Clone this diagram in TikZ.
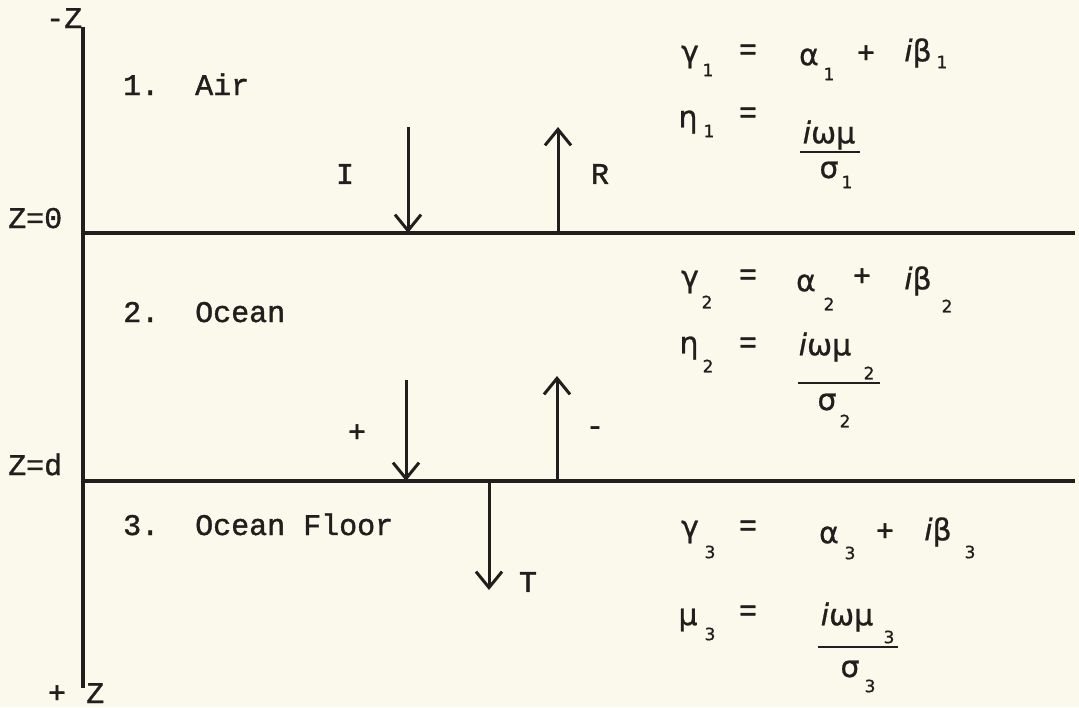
\documentclass[tikz,border=0pt]{standalone}
\usepackage{fontspec}
\newfontfamily\tw[FakeBold=1.3]{Liberation Mono}
\newfontfamily\gk[FakeBold=0.8]{DejaVu Sans}
\usetikzlibrary{arrows.meta}
\definecolor{paper}{RGB}{251,249,235}
\definecolor{ink}{RGB}{35,30,30}
\begin{document}
\begin{tikzpicture}[x=1pt,y=-1pt,
 txt/.style={inner sep=0pt, text=ink, font=\tw\fontsize{30}{30}\selectfont, anchor=base west},
 gr/.style={inner sep=0pt, text=ink, font=\gk\fontsize{30}{30}\selectfont},
 sb/.style={inner sep=0pt, text=ink, font=\gk\fontsize{17}{17}\selectfont},
 op/.style={inner sep=0pt, text=ink, font=\tw\fontsize{30}{30}\selectfont},
 ln/.style={draw=ink, line width=3.2pt},
 wave/.style={draw=ink, line width=3pt, -{Straight Barb[length=16pt,width=26pt]}},
 fracline/.style={draw=ink, line width=2.4pt}]
\fill[paper] (0,0) rectangle (1079,707);
\useasboundingbox (0,0) rectangle (1079,707);
% axes and interfaces
\coordinate (ztop) at (83,27);
\coordinate (zbot) at (83,688);
\coordinate (s0l) at (83,233); \coordinate (s0r) at (1075,233);
\coordinate (sdl) at (83,481); \coordinate (sdr) at (1075,481);
\draw[ln] (ztop) -- (zbot);
\draw[ln] (s0l) -- (s0r);
\draw[ln] (sdl) -- (sdr);
% waves
\coordinate (Is) at (408,127); \coordinate (Ie) at (408,233);
\coordinate (Rs) at (558,233); \coordinate (Re) at (558,127);
\coordinate (Ps) at (406,380); \coordinate (Pe) at (406,481);
\coordinate (Ms) at (557,481); \coordinate (Me) at (557,376);
\coordinate (Ts) at (489,481); \coordinate (Te) at (489,590);
\draw[wave] (Is) -- (Ie);
\draw[wave] (Rs) -- (Re);
\draw[wave] (Ps) -- (Pe);
\draw[wave] (Ms) -- (Me);
\draw[wave] (Ts) -- (Te);
% left labels
\node[txt] (mz) at (46,28) {-Z};
\node[txt] (z0) at (8,228) {Z=0};
\node[txt] (zd) at (8,475) {Z=d};
\node[op] (pz) at (57,694) {+};
\node[txt] (zz) at (86,703) {Z};
% region labels
\node[txt] (air) at (123,95) {1.\ \ Air};
\node[txt] (ocean) at (123,322) {2.\ \ Ocean};
\node[txt] (floor) at (123,535) {3.\ \ Ocean Floor};
\node[op] (lI) at (345,174) {I};
\node[op] (lR) at (600,174) {R};
\node[op] (lP) at (357,433) {+};
\node[op] (lM) at (595,431) {-};
\node[op] (lT) at (528,582) {T};
% region 1 equations
\node[gr] (g1) at (690,57) {γ};
\node[sb] (g1s) at (708,70) {1};
\node[op] (g1e) at (748,52) {=};
\node[gr] (a1) at (809,57) {α};
\node[sb] (a1s) at (829,74) {1};
\node[op] (g1p) at (866,54) {+};
\node[gr] (b1) at (918,53) {\textit{i}β};
\node[sb] (b1s) at (942,62) {1};
\node[gr] (h1) at (688,122) {η};
\node[sb] (h1s) at (709,131) {1};
\node[op] (h1e) at (748,115) {=};
\node[gr] (n1) at (829,135) {\textit{i}ωμ};
\coordinate (f1l) at (800,152); \coordinate (f1r) at (860,152);
\draw[fracline] (f1l) -- (f1r);
\node[gr] (d1) at (829,170) {σ};
\node[sb] (d1s) at (847,182) {1};
% region 2 equations
\node[gr] (g2) at (690,282) {γ};
\node[sb] (g2s) at (707,302) {2};
\node[op] (g2e) at (748,277) {=};
\node[gr] (a2) at (806,283) {α};
\node[sb] (a2s) at (829,304) {2};
\node[op] (g2p) at (862,277) {+};
\node[gr] (b2) at (918,281) {\textit{i}β};
\node[sb] (b2s) at (947,306) {2};
\node[gr] (h2) at (689,348) {η};
\node[sb] (h2s) at (708,366) {2};
\node[op] (h2e) at (748,345) {=};
\node[gr] (n2) at (825,347) {\textit{i}ωμ};
\node[sb] (n2s) at (869,373) {2};
\coordinate (f2l) at (798,383); \coordinate (f2r) at (880,383);
\draw[fracline] (f2l) -- (f2r);
\node[gr] (d2) at (827,402) {σ};
\node[sb] (d2s) at (845,421) {2};
% region 3 equations
\node[gr] (g3) at (690,532) {γ};
\node[sb] (g3s) at (710,552) {3};
\node[op] (g3e) at (748,528) {=};
\node[gr] (a3) at (829,535) {α};
\node[sb] (a3s) at (850,553) {3};
\node[op] (g3p) at (885,532) {+};
\node[gr] (b3) at (938,532) {\textit{i}β};
\node[sb] (b3s) at (970,552) {3};
\node[gr] (m3) at (688,620) {μ};
\node[sb] (m3s) at (710,634) {3};
\node[op] (m3e) at (748,613) {=};
\node[gr] (n3) at (847,617) {\textit{i}ωμ};
\node[sb] (n3s) at (889,637) {3};
\coordinate (f3l) at (818,647); \coordinate (f3r) at (898,647);
\draw[fracline] (f3l) -- (f3r);
\node[gr] (d3) at (850,669) {σ};
\node[sb] (d3s) at (870,686) {3};
\end{tikzpicture}
\end{document}
